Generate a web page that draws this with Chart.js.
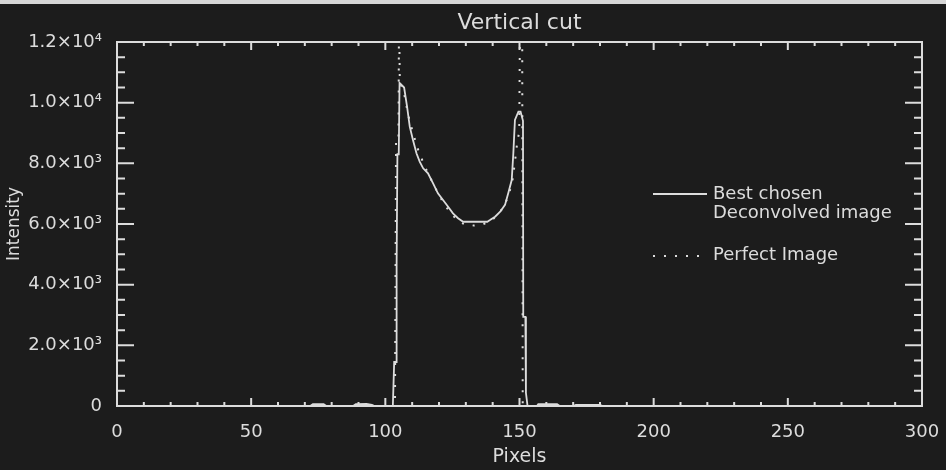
<!DOCTYPE html>
<html>
<head>
<meta charset="utf-8">
<script src="https://cdn.jsdelivr.net/npm/chart.js@4.4.0/dist/chart.umd.min.js"></script>
<style>
  html, body { margin: 0; padding: 0; background: #1c1c1c; }
  #wrap { width: 946px; height: 470px; }
</style>
</head>
<body>
<div id="wrap"><canvas id="chart-vertical-cut" width="946" height="470"></canvas></div>
<script>
// vertical cut through the deconvolved image (pixel index -> intensity)
var cutX = [0, 72, 73, 77, 78, 88, 89, 93, 95, 96, 102.8, 103.3, 104.0, 104.2, 104.5,
    105.0, 105.3, 107, 108.1, 109.1, 110.3, 111.6, 112.8, 114.1, 115.9, 117.8, 119.6,
    121.5, 123.4, 125.2, 127.1, 129, 138, 139, 140.9, 142.8, 144.6, 145.8, 147.1, 147.7,
    148.3, 149.6, 150.4, 151.3, 151.4, 152.2, 152.4, 153, 156.5, 157, 164, 165, 170, 171,
    180, 181, 300];
var deconvolved = [0, 0, 60, 60, 0, 0, 60, 70, 40, 0, 0, 1450, 1450, 4650, 8300,
    8300, 10650, 10500, 9870, 9210, 8770, 8330, 8055, 7835, 7670, 7340, 7010,
    6790, 6570, 6350, 6190, 6075, 6075, 6130, 6240, 6405, 6630, 7010, 7450, 8330,
    9430, 9700, 9700, 9400, 2940, 2940, 430, 0, 0, 60, 60, 0, 0, 40,
    40, 0, 0];

// same cut through the perfect image
var perfectX = [0, 103.6, 104.0, 104.9, 105.1, 105.4, 107, 108.5, 110, 112, 114, 116,
    118, 120, 122, 124, 126, 128, 130, 133, 136, 138, 140, 142, 144, 146, 147.5,
    148.5, 149.3, 149.9, 150.2, 151.0, 151.2, 300];
var perfect = [0, 0, 8800, 8800, 13000, 10700, 10300, 9600, 9100, 8500, 8050, 7650,
    7300, 6950, 6650, 6400, 6200, 6050, 5980, 5950, 5980, 6050, 6150, 6330, 6550, 6950, 7500,
    8200, 8800, 9000, 13000, 13000, 0, 0];

var xTickLabels = ['0', '50', '100', '150', '200', '250', '300'];
var yTickLabels = ['0', '2.0×10³', '4.0×10³', '6.0×10³', '8.0×10³', '1.0×10⁴', '1.2×10⁴'];

var FG = '#dcdcdc';
var BG = '#1c1c1c';
var FONT = "'DejaVu Sans', sans-serif";
var DOTS = [2, 9];

function toPoints(xs, ys) {
    return xs.map(function (x, i) { return { x: x, y: ys[i] }; });
}

// IDL style frame: box, inward major/minor ticks on all sides, legend
var frame = {
    id: 'frame',
    beforeDraw: function (chart) {
        var ctx = chart.ctx;
        ctx.save();
        ctx.fillStyle = BG;
        ctx.fillRect(0, 0, chart.width, chart.height);
        ctx.fillStyle = '#d6d6d6';
        ctx.fillRect(0, 0, chart.width, 4);
        ctx.restore();
    },
    afterDatasetsDraw: function (chart) {
        var ctx = chart.ctx, a = chart.chartArea;
        var x = chart.scales.x, y = chart.scales.y;
        ctx.save();
        ctx.strokeStyle = FG;
        ctx.lineWidth = 2;
        ctx.strokeRect(a.left, a.top, a.right - a.left, a.bottom - a.top);
        ctx.beginPath();
        for (var v = x.min; v <= x.max; v += 10) {
            var px = x.getPixelForValue(v);
            var len = v % 50 === 0 ? 8 : 4;
            ctx.moveTo(px, a.bottom); ctx.lineTo(px, a.bottom - len);
            ctx.moveTo(px, a.top); ctx.lineTo(px, a.top + len);
        }
        for (var w = y.min; w <= y.max; w += 500) {
            var py = y.getPixelForValue(w);
            var ylen = w % 2000 === 0 ? 17 : 8;
            ctx.moveTo(a.left, py); ctx.lineTo(a.left + ylen, py);
            ctx.moveTo(a.right, py); ctx.lineTo(a.right - ylen, py);
        }
        ctx.stroke();

        // legend
        ctx.lineWidth = 1.8;
        ctx.beginPath();
        ctx.moveTo(653, 194); ctx.lineTo(707, 194);
        ctx.stroke();
        ctx.lineWidth = 2;
        ctx.setLineDash(DOTS);
        ctx.beginPath();
        ctx.moveTo(653, 256); ctx.lineTo(702, 256);
        ctx.stroke();
        ctx.setLineDash([]);
        ctx.fillStyle = FG;
        ctx.font = '18px ' + FONT;
        ctx.textAlign = 'left';
        ctx.textBaseline = 'alphabetic';
        ctx.fillText('Best chosen', 713, 199);
        ctx.fillText('Deconvolved image', 713, 218);
        ctx.fillText('Perfect Image', 713, 260);
        ctx.restore();
    }
};

var ctx = document.getElementById('chart-vertical-cut');
new Chart(ctx, {
    type: 'line',
    data: {
        datasets: [{
            label: 'Perfect Image',
            data: toPoints(perfectX, perfect),
            borderColor: FG,
            borderWidth: 2,
            borderDash: DOTS,
            pointRadius: 0,
            tension: 0
        }, {
            label: 'Best chosen Deconvolved image',
            data: toPoints(cutX, deconvolved),
            borderColor: FG,
            borderWidth: 1.8,
            pointRadius: 0,
            tension: 0
        }]
    },
    options: {
        responsive: false,
        animation: false,
        devicePixelRatio: 1,
        layout: { padding: { left: 0, right: 24, top: 0, bottom: 0 } },
        plugins: {
            legend: { display: false },
            tooltip: { enabled: false },
            title: {
                display: true,
                text: 'Vertical cut',
                fullSize: false,
                color: FG,
                font: { family: FONT, size: 22, weight: 'normal' },
                padding: { top: 10, bottom: 5.6 }
            }
        },
        scales: {
            x: {
                type: 'linear',
                min: 0,
                max: 300,
                grid: { display: false },
                border: { display: false },
                ticks: {
                    stepSize: 50,
                    padding: 8,
                    color: FG,
                    font: { family: FONT, size: 18 },
                    callback: function (v) { return xTickLabels[v / 50]; }
                },
                title: {
                    display: true,
                    text: 'Pixels',
                    color: FG,
                    font: { family: FONT, size: 19 },
                    padding: { top: 0, bottom: 2 }
                },
                afterFit: function (scale) {
                    scale.height = 64;
                    scale.paddingLeft = 0;
                    scale.paddingRight = 0;
                }
            },
            y: {
                type: 'linear',
                min: 0,
                max: 12000,
                grid: { display: false },
                border: { display: false },
                ticks: {
                    stepSize: 2000,
                    padding: 7,
                    color: FG,
                    font: { family: FONT, size: 18 },
                    callback: function (v) { return yTickLabels[v / 2000]; }
                },
                title: {
                    display: true,
                    text: 'Intensity',
                    color: FG,
                    font: { family: FONT, size: 17 },
                    padding: { top: 4, bottom: 0 }
                },
                afterFit: function (scale) {
                    scale.width = 117;
                    scale.paddingTop = 0;
                    scale.paddingBottom = 0;
                }
            }
        }
    },
    plugins: [frame]
});
</script>
</body>
</html>
